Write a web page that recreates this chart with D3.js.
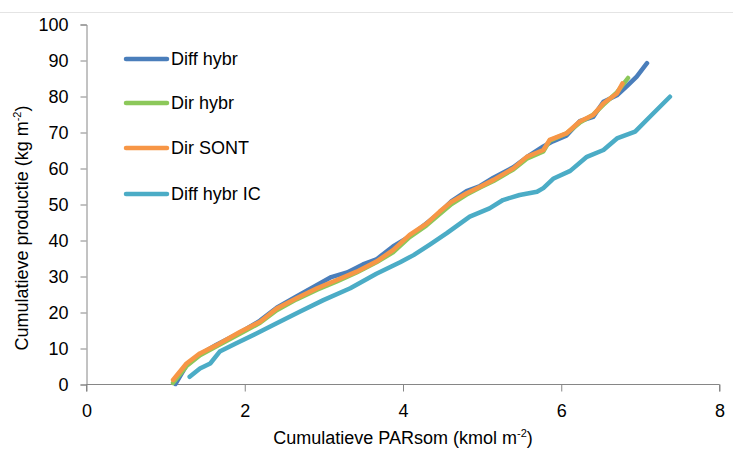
<!DOCTYPE html>
<html>
<head>
<meta charset="utf-8">
<script src="https://cdn.jsdelivr.net/npm/d3@7/dist/d3.min.js"></script>
<style>
  html, body { margin: 0; padding: 0; background: #fff; }
  svg { display: block; font-family: "Liberation Sans", Arial, sans-serif; }
</style>
</head>
<body>
<svg id="chart" width="733" height="453"></svg>
<script>
// ---- data ----
const seriesNames = ["Diff hybr", "Dir hybr", "Dir SONT", "Diff hybr IC"];
const seriesColors = ["#4a7ebb", "#8cc85a", "#f79646", "#4bacc6"];

const diffHybrX = [1.13, 1.27, 1.44, 1.65, 1.95, 2.20, 2.41, 2.66, 2.92, 3.10, 3.30, 3.50, 3.67, 3.88, 4.09, 4.30, 4.47, 4.62, 4.81, 4.98, 5.15, 5.40, 5.57, 5.78, 5.90, 6.07, 6.24, 6.41, 6.54, 6.71, 6.83, 6.96, 7.09];
const diffHybrY = [0.0, 5.2, 8.2, 10.9, 14.3, 17.6, 21.2, 24.3, 27.5, 29.7, 31.0, 33.2, 34.6, 38.2, 41.0, 44.6, 47.6, 50.8, 53.6, 55.0, 57.3, 60.2, 63.0, 66.0, 67.4, 69.0, 73.0, 74.2, 78.4, 80.2, 82.6, 85.4, 89.1];

const dirHybrX = [1.10, 1.27, 1.44, 1.65, 1.95, 2.20, 2.41, 2.66, 2.92, 3.17, 3.42, 3.67, 3.88, 4.09, 4.30, 4.47, 4.62, 4.81, 4.98, 5.15, 5.40, 5.57, 5.78, 5.86, 6.07, 6.24, 6.41, 6.54, 6.71, 6.85];
const dirHybrY = [0.3, 5.0, 8.0, 10.5, 14.0, 17.0, 20.5, 23.5, 26.2, 28.5, 31.0, 33.8, 36.6, 40.8, 44.0, 47.2, 50.0, 52.6, 54.6, 56.4, 59.6, 62.6, 64.6, 67.6, 69.6, 72.6, 74.8, 77.6, 81.0, 85.0];

const dirSontX = [1.10, 1.27, 1.44, 1.65, 1.95, 2.20, 2.41, 2.66, 2.92, 3.17, 3.42, 3.67, 3.88, 4.09, 4.30, 4.47, 4.62, 4.81, 4.98, 5.15, 5.40, 5.57, 5.78, 5.86, 6.07, 6.24, 6.41, 6.54, 6.71, 6.78];
const dirSontY = [1.1, 5.7, 8.5, 10.8, 14.5, 17.3, 21.0, 23.8, 26.6, 28.9, 31.2, 34.0, 37.2, 41.4, 44.5, 47.9, 50.6, 53.0, 54.8, 56.7, 59.9, 63.1, 65.0, 67.8, 69.6, 72.9, 74.7, 78.0, 80.7, 83.5];

const diffHybrIcX = [1.31, 1.44, 1.57, 1.69, 1.90, 2.16, 2.41, 2.70, 3.00, 3.34, 3.67, 3.97, 4.14, 4.35, 4.56, 4.85, 5.10, 5.27, 5.48, 5.70, 5.78, 5.91, 6.12, 6.33, 6.54, 6.71, 6.94, 7.13, 7.38];
const diffHybrIcY = [2.0, 4.3, 5.7, 9.0, 11.3, 14.1, 16.9, 20.1, 23.3, 26.6, 30.6, 33.8, 35.8, 38.8, 41.9, 46.5, 48.8, 51.1, 52.5, 53.4, 54.4, 57.1, 59.2, 63.1, 65.0, 68.2, 70.1, 74.3, 79.8];

const xTicks = [0, 2, 4, 6, 8];
const yTicks = [0, 10, 20, 30, 40, 50, 60, 70, 80, 90, 100];

// ---- build ----
const seriesX = [diffHybrX, dirHybrX, dirSontX, diffHybrIcX];
const seriesY = [diffHybrY, dirHybrY, dirSontY, diffHybrIcY];
const series = seriesNames.map((name, i) => ({
  name, color: seriesColors[i],
  points: seriesX[i].map((x, j) => ({ x, y: seriesY[i][j] }))
}));

const svg = d3.select("#chart");
const axisColor = "#868686";

// faint top border line
svg.append("line").attr("x1", 0).attr("x2", 733).attr("y1", 12.5).attr("y2", 12.5)
  .attr("stroke", "#e4e4e4").attr("stroke-width", 1);

const x = d3.scaleLinear().domain([0, 8]).range([86, 719]);
const y = d3.scaleLinear().domain([0, 100]).range([384, 24]);

// y axis
const yAxis = svg.append("g").attr("transform", "translate(86.5,0.5)")
  .call(d3.axisLeft(y).tickValues(yTicks).tickSize(6).tickSizeOuter(6).tickPadding(12).tickFormat(d3.format("d")));
// x axis
const xAxis = svg.append("g").attr("transform", "translate(0.5,384.5)")
  .call(d3.axisBottom(x).tickValues(xTicks).tickSize(7).tickSizeOuter(7).tickPadding(13).tickFormat(d3.format("d")));

[yAxis, xAxis].forEach(g => {
  g.selectAll("path, line").attr("stroke", axisColor).attr("stroke-width", 1);
  g.selectAll("text").attr("fill", "#000").style("font-size", "18px")
    .style("font-family", '"Liberation Sans", Arial, sans-serif');
});
// remove the x=0 domain overlap left of y axis
xAxis.select(".domain").attr("d", `M${x(0)},7V0H${x(8)}V7`);

// lines
const line = d3.line().x(d => x(d.x)).y(d => y(d.y));
svg.append("g").selectAll("path").data(series).join("path")
  .attr("d", d => line(d.points))
  .attr("fill", "none")
  .attr("stroke", d => d.color)
  .attr("stroke-width", 4.5)
  .attr("stroke-linejoin", "round")
  .attr("stroke-linecap", "round");

// legend
const legend = svg.append("g");
const legendY = [59, 103, 148, 194];
series.forEach((s, i) => {
  legend.append("line").attr("x1", 126).attr("x2", 167)
    .attr("y1", legendY[i]).attr("y2", legendY[i])
    .attr("stroke", s.color).attr("stroke-width", 4.5).attr("stroke-linecap", "round");
  legend.append("text").attr("x", 171).attr("y", legendY[i]).attr("dy", "0.35em")
    .style("font-size", "18px").attr("fill", "#000").text(s.name);
});

// axis titles
const xt = svg.append("text").attr("x", 403).attr("y", 444)
  .attr("text-anchor", "middle").style("font-size", "18px").attr("fill", "#000");
xt.append("tspan").text("Cumulatieve PARsom (kmol m");
xt.append("tspan").attr("dy", -7).style("font-size", "11px").text("-2");
xt.append("tspan").attr("dy", 7).text(")");

const yt = svg.append("text").attr("transform", "translate(28,228) rotate(-90)")
  .attr("text-anchor", "middle").style("font-size", "18px").attr("fill", "#000");
yt.append("tspan").text("Cumulatieve productie (kg m");
yt.append("tspan").attr("dy", -7).style("font-size", "11px").text("-2");
yt.append("tspan").attr("dy", 7).text(")");
</script>
</body>
</html>
